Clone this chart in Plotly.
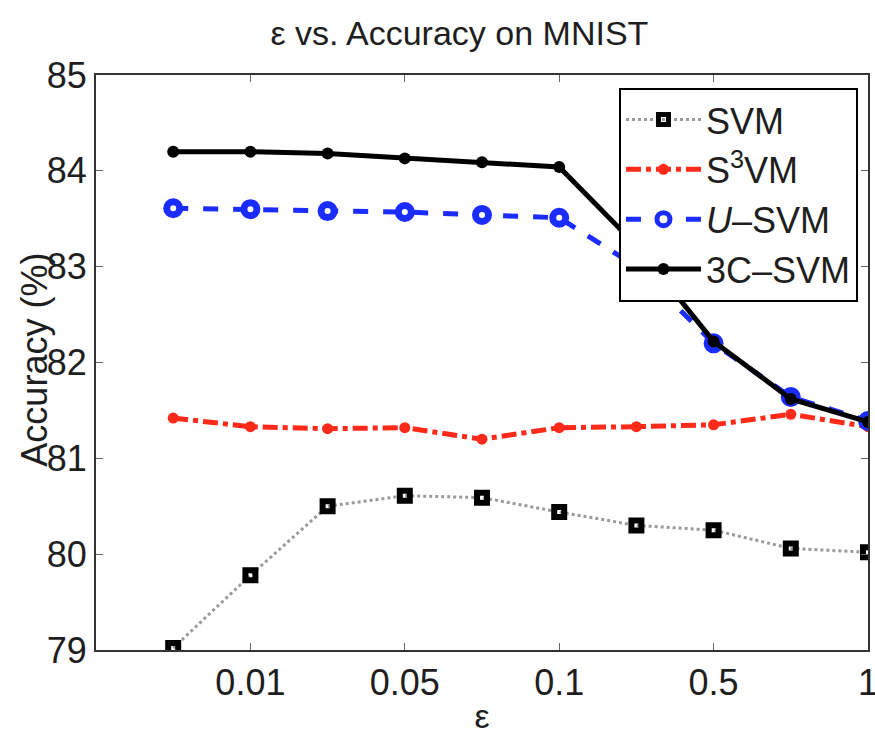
import plotly.graph_objects as go

x_idx = [1, 2, 3, 4, 5, 6, 7, 8, 9, 10]
tick_pos = [2, 4, 6, 8, 10]
tick_labels = ["0.01", "0.05", "0.1", "0.5", "1"]

svm = [79.02, 79.78, 80.50, 80.61, 80.59, 80.44, 80.30, 80.25, 80.06, 80.02]
s3vm = [81.42, 81.33, 81.31, 81.32, 81.20, 81.32, 81.33, 81.35, 81.46, 81.33]
usvm = [83.61, 83.60, 83.58, 83.57, 83.54, 83.51, 83.00, 82.20, 81.64, 81.39]
c3svm = [84.20, 84.20, 84.18, 84.13, 84.09, 84.04, 83.22, 82.22, 81.62, 81.38]

FONT = "Liberation Sans, Arial, Helvetica, sans-serif"
TXT = "#1e1e1e"

fig = go.Figure()
fig.add_trace(go.Scatter(
    x=x_idx, y=svm, name="SVM", mode="lines+markers",
    line=dict(color="#9a9a9a", width=3, dash="dot"),
    marker=dict(symbol="square-open", size=10, color="black", line=dict(width=6, color="black")),
))
fig.add_trace(go.Scatter(
    x=x_idx, y=s3vm, name="S<sup>3</sup>VM", mode="lines+markers",
    line=dict(color="#ff2a1a", width=5, dash="dashdot"),
    marker=dict(symbol="circle", size=11, color="#ff2a1a"),
))
fig.add_trace(go.Scatter(
    x=x_idx, y=usvm, name="<i>U</i>–SVM", mode="lines+markers",
    line=dict(color="#1a2cff", width=5, dash="dash"),
    marker=dict(symbol="circle", size=13, color="white", line=dict(width=7, color="#1a2cff")),
))
fig.add_trace(go.Scatter(
    x=x_idx, y=c3svm, name="3C–SVM", mode="lines+markers",
    line=dict(color="black", width=5),
    marker=dict(symbol="circle", size=12, color="black"),
))

fig.update_layout(
    width=875, height=746,
    margin=dict(l=96, r=7, t=75, b=96, autoexpand=False),
    paper_bgcolor="white", plot_bgcolor="white",
    font=dict(family=FONT, size=36, color=TXT),
    title=dict(text="ε vs. Accuracy on MNIST", x=0.525, xanchor="center", y=0.955, yanchor="middle",
               font=dict(size=34, color=TXT)),
    showlegend=True,
    legend=dict(
        x=0.987, y=0.978, xanchor="right", yanchor="top",
        bgcolor="white", bordercolor="black", borderwidth=2,
        font=dict(size=36, color=TXT),
        itemwidth=75, tracegroupgap=0,
    ),
    xaxis=dict(
        range=[0, 10], tickvals=tick_pos, ticktext=tick_labels,
        ticks="inside", ticklen=7, tickcolor="#666", showgrid=False, zeroline=False,
        showline=True, linecolor="#333", linewidth=2, mirror="ticks",
        ticklabeloverflow="allow", automargin=False,
        title=dict(text="ε", font=dict(size=34), standoff=2),
    ),
    yaxis=dict(
        range=[79, 85], tickvals=[79, 80, 81, 82, 83, 84, 85],
        ticks="inside", ticklen=7, tickcolor="#666", showgrid=False, zeroline=False,
        showline=True, linecolor="#333", linewidth=2, mirror="ticks", automargin=False,
    ),
    annotations=[dict(
        text="Accuracy (%)", textangle=-90, xref="paper", yref="paper",
        x=-0.079, y=0.505, xanchor="center", yanchor="middle", showarrow=False,
        font=dict(size=36, color=TXT),
    )],
)

fig.write_html("out.html")
